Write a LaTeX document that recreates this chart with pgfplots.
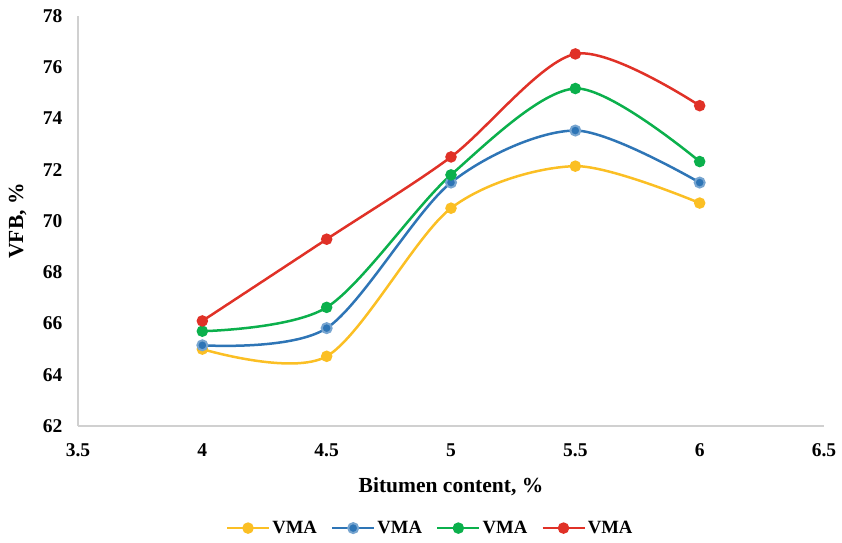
\documentclass[border=0pt]{standalone}
\usepackage{pgfplots}
\pgfplotsset{compat=1.18}
\usepackage{fontspec}
\setmainfont{Liberation Serif}
\definecolor{cY}{HTML}{FBBF24}
\definecolor{cB}{HTML}{2E75B6}
\definecolor{cG}{HTML}{0BB04C}
\definecolor{cR}{HTML}{E03127}
\definecolor{axgray}{HTML}{D0D0D0}
\begin{document}
\begin{tikzpicture}[x=1pt,y=1pt]
\path[use as bounding box] (0,0) rectangle (842,542);
\begin{axis}[
  at={(78pt,116pt)}, anchor=south west,
  scale only axis, width=746pt, height=410pt,
  xmin=3.5, xmax=6.5, ymin=62, ymax=78,
  xtick={3.5,4,4.5,5,5.5,6,6.5},
  ytick={62,64,...,78},
  axis x line=bottom, axis y line=left,
  axis line style={axgray, line width=1.2pt, -},
  major tick length=0pt,
  tick label style={font=\fontsize{19.5}{22}\selectfont\bfseries},
  /pgf/number format/assume math mode=true,
  xticklabel style={yshift=-14pt},
  yticklabel style={xshift=-12pt},
  xlabel={Bitumen content, \%},
  ylabel={VFB, \%},
  label style={font=\fontsize{21.5}{24}\selectfont\bfseries},
  xlabel style={at={(0.5,-0.161)}, anchor=base},
  ylabel style={at={(-0.0737,0.5)}, anchor=base},
  every axis plot/.append style={line width=2.5pt, smooth, tension=0.5, mark=*, mark size=5pt},
  legend style={at={(0.472,-0.249)}, anchor=center, draw=none, legend columns=4,
    font=\fontsize{18.7}{21}\selectfont\bfseries,
    /tikz/every even column/.append style={column sep=12pt}},
  legend image code/.code={
    \draw[#1, mark=none] (0pt,0pt) -- (42pt,0pt);
    \draw[#1, only marks] plot coordinates {(21pt,0pt)};
  },
  clip=false,
]
\addplot[cY, mark options={fill=cY, draw=cY, line width=1.5pt}] coordinates {(4,65.0) (4.5,64.72) (5,70.5) (5.5,72.14) (6,70.7)};
\addlegendentry{VMA}
\addplot[cB, mark options={fill=cB, draw=cB!65!white, line width=2pt}] coordinates {(4,65.15) (4.5,65.82) (5,71.5) (5.5,73.53) (6,71.5)};
\addlegendentry{VMA}
\addplot[cG, mark options={fill=cG, draw=cG, line width=1.5pt}] coordinates {(4,65.7) (4.5,66.63) (5,71.8) (5.5,75.17) (6,72.32)};
\addlegendentry{VMA}
\addplot[cR, mark options={fill=cR, draw=cR, line width=1.5pt}] coordinates {(4,66.1) (4.5,69.29) (5,72.5) (5.5,76.52) (6,74.5)};
\addlegendentry{VMA}
\end{axis}
\end{tikzpicture}
\end{document}
